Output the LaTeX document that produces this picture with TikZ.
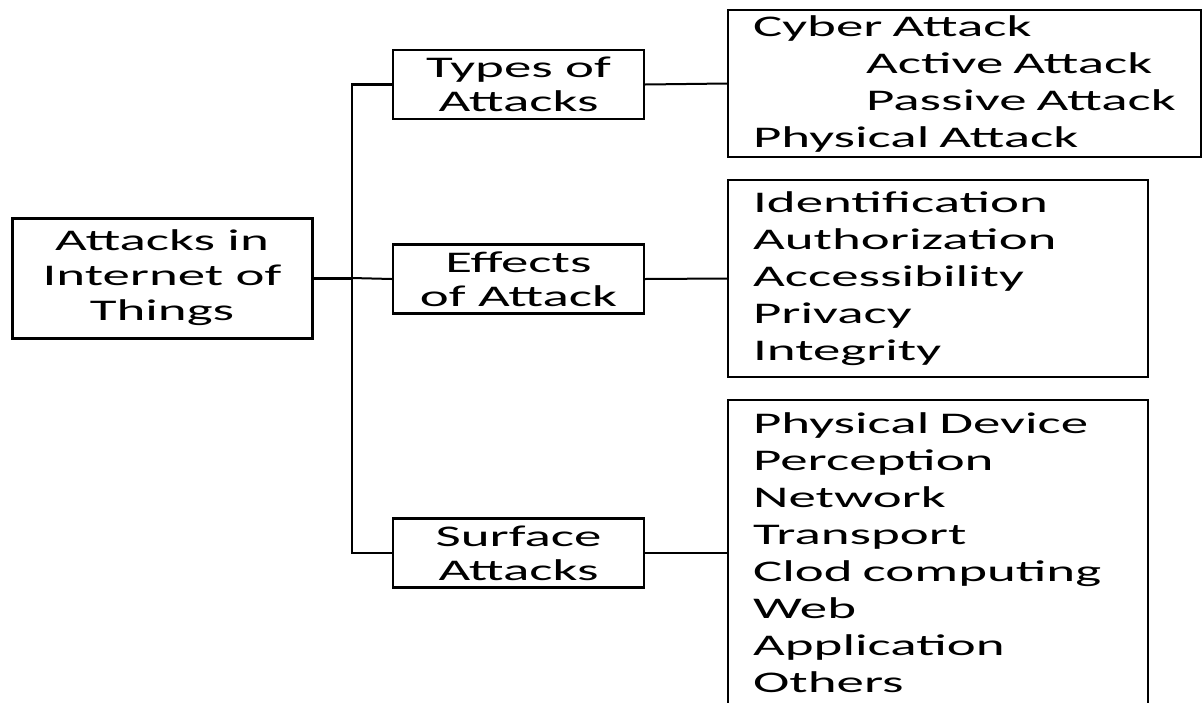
\documentclass[tikz,border=0pt]{standalone}
\usepackage{fontspec}
\setmainfont[FakeStretch=1.83]{Carlito}
\usepackage{xcolor}
\usepackage{tikz}
\usetikzlibrary{positioning}

\begin{document}
\begin{tikzpicture}[x=1pt, y=-1pt,
    every node/.style = {shape=rectangle, draw, line width=2.2pt, inner sep=0pt},
    topic/.style = {align=center, minimum width=251pt, minimum height=69pt,
      font=\fontsize{30}{34}\selectfont},
    itemlist/.style = {anchor=west, align=left, inner xsep=25pt,
      font=\fontsize{30}{37}\selectfont}]
    \useasboundingbox (0,0) rectangle (1202,702);
    \clip (0,0) rectangle (1202,702);
    \node[align=center, minimum width=300pt, minimum height=120pt,
      line width=3pt, font=\fontsize{30}{35}\selectfont] (root) at (162,278)
      {Attacks in\\Internet of\\Things};
    \node[topic] (types) at (518.5,84.5) {Types of\\Attacks};
    \node[topic] (effects) at (518.5,279) {Effects\\of Attack};
    \node[topic] (surface) at (518.5,553) {Surface\\Attacks};
    \node[itemlist, text width=423pt, minimum height=147pt] (typeslist) at (727,83.5)
      {Cyber Attack\\\hspace*{113pt}Active Attack\\\hspace*{113pt}Passive Attack\\Physical Attack};
    \node[itemlist, text width=370pt, minimum height=197pt] (effectslist) at (727,278.5)
      {Identification\\Authorization\\Accessibility\\Privacy\\Integrity};
    \node[itemlist, text width=370pt, minimum height=306pt] (surfacelist) at (727,553)
      {Physical Device\\Perception\\Network\\Transport\\Clod computing\\Web\\Application\\Others};
    % connectors
    \coordinate (fork) at (352,278);
    \draw[line width=3pt] (root.east) -- (fork);
    \draw[line width=2.6pt] (types.west) -| (fork) |- (surface.west);
    \draw[line width=2pt] (fork) -- (effects.west);
    \draw[line width=2pt] (types.east) -- (typeslist.west);
    \draw[line width=2pt] (effects.east) -- (effectslist.west);
    \draw[line width=2pt] (surface.east) -- (surfacelist.west);
\end{tikzpicture}
\end{document}
